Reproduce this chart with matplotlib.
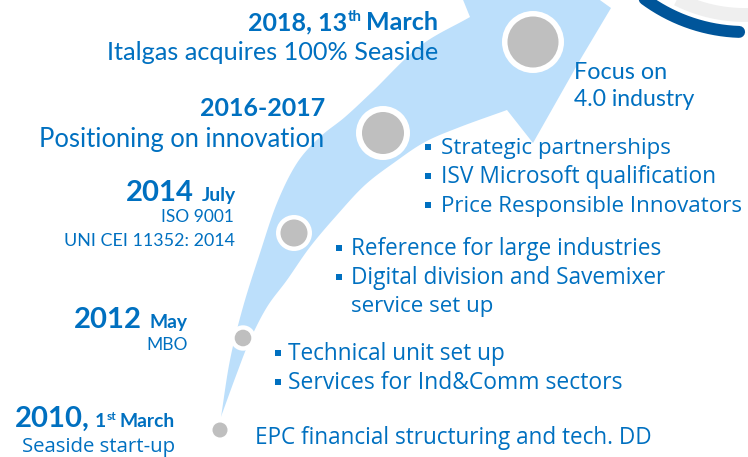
import numpy as np
import matplotlib
matplotlib.use("Agg")
import matplotlib.pyplot as plt
from matplotlib.patches import Polygon, Circle

# ---------------- content (data) ----------------
header_2018 = ["2018, 13", "th", "March"]
header_2016 = ["2016-2017"]
header_2014 = ["2014", "July"]
header_2012 = ["2012", "May"]
header_2010 = ["2010,", "1", "st", "March"]

desc_2018 = "Italgas acquires 100% Seaside"
desc_2016 = "Positioning on innovation"
desc_2014 = ["ISO 9001", "UNI CEI 11352: 2014"]
desc_2012 = ["MBO"]
desc_2010 = "Seaside start-up"

focus_lines = ["Focus on", "4.0 industry"]
bullets_2016 = ["Strategic partnerships", "ISV Microsoft qualification",
                "Price Responsible Innovators"]
bullets_2014 = ["Reference for large industries", "Digital division and Savemixer"]
bullets_2014_cont = "service set up"
bullets_2012 = ["Technical unit set up", "Services for Ind&Comm sectors"]
note_2010 = "EPC financial structuring and tech. DD"

# ---------------- style ----------------
BLUE = "#0070C0"
BAND = "#BCDFFB"
DOT = "#BFBFBF"
DARK = "#00559A"
RING = "#EFEFEF"
LEAD = ["Lato", "DejaVu Sans"]
BODY = ["Open Sans", "DejaVu Sans"]

fig = plt.figure(figsize=(7.48, 4.57), dpi=100)
ax = fig.add_axes([0, 0, 1, 1])
ax.set_xlim(0, 748)
ax.set_ylim(457, 0)
ax.axis("off")


def catmull(pts, n=24):
    pts = np.asarray(pts, float)
    P = np.vstack([2 * pts[0] - pts[1], pts, 2 * pts[-1] - pts[-2]])
    out = []
    t = np.linspace(0, 1, n, endpoint=False)[:, None]
    for i in range(1, len(P) - 2):
        p0, p1, p2, p3 = P[i - 1], P[i], P[i + 1], P[i + 2]
        out.append(0.5 * (2 * p1 + (-p0 + p2) * t + (2 * p0 - 5 * p1 + 4 * p2 - p3) * t ** 2
                          + (-p0 + 3 * p1 - 3 * p2 + p3) * t ** 3))
    out.append(P[-2][None])
    return np.vstack(out)


# decorative ring at top-right
cx, cy = 745, -137
a = np.radians(np.linspace(55, 135, 200))
ax.plot(cx + 152 * np.cos(a), cy + 152 * np.sin(a), color=RING, lw=10, solid_capstyle="butt", zorder=1)
a = np.radians(np.linspace(92, 150, 200))
ax.plot(cx + 169 * np.cos(a), cy + 169 * np.sin(a), color=DARK, lw=8.6, solid_capstyle="round", zorder=2)

# curved arrow
left_edge = [(221, 417), (230, 360), (243, 307), (260, 253), (277, 203), (297, 163),
             (320, 137), (345, 117), (373, 91), (420, 46), (470, 17)]
head = [(455, -20), (572, -20), (611, 8), (580, 60), (533, 143)]
right_edge = [(507, 110), (460, 127), (425, 142), (395, 162), (365, 185), (337, 215),
              (310, 247), (287, 280), (267, 307), (250, 340), (237, 373), (222, 414)]
poly = np.vstack([catmull(left_edge), np.array(head, float), catmull(right_edge)])
ax.add_patch(Polygon(poly, closed=True, facecolor=BAND, edgecolor="none", zorder=3))

# milestone dots (outer white ring, inner gray)
dots = [(533, 42, 31, 25.5), (383, 133, 27, 21), (294, 233, 18, 13.5),
        (243, 338, 12.7, 8.3), (220, 430, 0, 7.5)]
for x, y, ro, ri in dots:
    if ro:
        ax.add_patch(Circle((x, y), ro, facecolor="white", edgecolor="none", zorder=4))
    ax.add_patch(Circle((x, y), ri, facecolor=DOT, edgecolor="none", zorder=5))

renderer = fig.canvas.get_renderer()


def T(x, y, s, fam, weight="normal", ha="left", size=12):
    return ax.text(x, y, s, family=fam, weight=weight, ha=ha, va="baseline",
                   color=BLUE, fontsize=size, zorder=6)


def fit(items, individual=False):
    ratios = [tw / t.get_window_extent(renderer).width for t, tw in items]
    k = float(np.median(ratios))
    for (t, _), r in zip(items, ratios):
        rr = r if individual else k
        t.set_fontsize(t.get_fontsize() * rr)
    return k


def chain_left(prev, s, fam, weight, size, base_y, gap, rise=0):
    return ax.annotate(s, xy=(0, base_y), xycoords=(prev, "data"),
                       xytext=(-gap, rise), textcoords="offset points",
                       ha="right", va="baseline", family=fam, weight=weight,
                       fontsize=size, color=BLUE, zorder=6)


# ---- big bold headers (2018, 2016)
h18_march = T(438, 30, header_2018[2], LEAD, "bold", "right", 16)
h16 = T(325, 116, header_2016[0], LEAD, "bold", "right", 16)
probe18 = T(0, -100, header_2018[0], LEAD, "bold", "left", 16)
fit([(h18_march, 71), (h16, 125), (probe18, 105)])
big = h16.get_fontsize()
probe18.remove()

# ---- huge bold years + small bold months
y14 = T(193, 201, header_2014[0], LEAD, "bold", "right", 18)
y12 = T(142, 328, header_2012[0], LEAD, "bold", "right", 18)
y10 = T(87, 427, header_2010[0], LEAD, "bold", "right", 18)
fit([(y14, 68), (y12, 67), (y10, 78)])
huge = y14.get_fontsize()
for t in (y14, y12, y10):
    t.remove()

m14 = T(236, 201, header_2014[1], LEAD, "bold", "right", 11)
m12 = T(188, 328, header_2012[1], LEAD, "bold", "right", 11)
m10 = T(175, 427, header_2010[3], LEAD, "bold", "right", 11)
fit([(m14, 34), (m12, 37), (m10, 55)])
small = m14.get_fontsize()

chain_left(m14, header_2014[0], LEAD, "bold", huge, 201, 5.5)
chain_left(m12, header_2012[0], LEAD, "bold", huge, 328, 5.5)
st = chain_left(m10, header_2010[2], LEAD, "bold", small * 0.62, 427, 2.5, 5)
one = chain_left(st, header_2010[1], LEAD, "bold", small, 427, 0.3)
chain_left(one, header_2010[0], LEAD, "bold", huge, 427, 3.5)

th = chain_left(h18_march, header_2018[1], LEAD, "bold", big * 0.6, 30, 3, 6.5)
chain_left(th, header_2018[0], LEAD, "bold", big, 30, 0.3)

# ---- descriptions (lead font)
d18 = T(438, 60, desc_2018, LEAD, "normal", "right", 16)
d16 = T(324, 147, desc_2016, LEAD, "normal", "right", 16)
f1 = T(574, 79, focus_lines[0], LEAD, "normal", "left", 16)
f2 = T(574, 106, focus_lines[1], LEAD, "normal", "left", 16)
fit([(d18, 333), (d16, 286), (f1, 93), (f2, 121)], individual=True)

s1 = T(234, 222, desc_2014[0], LEAD, "normal", "right", 11)
s2 = T(235, 246, desc_2014[1], LEAD, "normal", "right", 11)
s3 = T(188, 350, desc_2012[0], LEAD, "normal", "right", 11)
fit([(s1, 73), (s2, 170), (s3, 41)], individual=True)

# ---- body texts
body_items = []
bx16, tx16 = 428, 441
for i, s in enumerate(bullets_2016):
    yb = 154 + 29 * i
    body_items.append(T(tx16, yb, s, BODY))
    ax.scatter([bx16], [yb - 7.5], marker="s", s=22, color=BLUE, zorder=6, linewidths=0)
bx14, tx14 = 339, 351
for i, s in enumerate(bullets_2014):
    yb = 255 + 29 * i
    body_items.append(T(tx14, yb, s, BODY))
    ax.scatter([bx14], [yb - 7.5], marker="s", s=22, color=BLUE, zorder=6, linewidths=0)
body_items.append(T(tx14, 312, bullets_2014_cont, BODY))
bx12, tx12 = 278, 288
for i, s in enumerate(bullets_2012):
    yb = 360 + 29 * i
    body_items.append(T(tx12, yb, s, BODY))
    ax.scatter([bx12], [yb - 7.5], marker="s", s=22, color=BLUE, zorder=6, linewidths=0)
body_items.append(T(255, 444, note_2010, BODY))
body_items.append(T(175, 452, desc_2010, BODY, ha="right"))

targets = [229, 274, 300, 309, 313, 142, 216, 331, 396, 152]
fit(list(zip(body_items, targets)), individual=True)

fig.savefig("out.png", dpi=100)
